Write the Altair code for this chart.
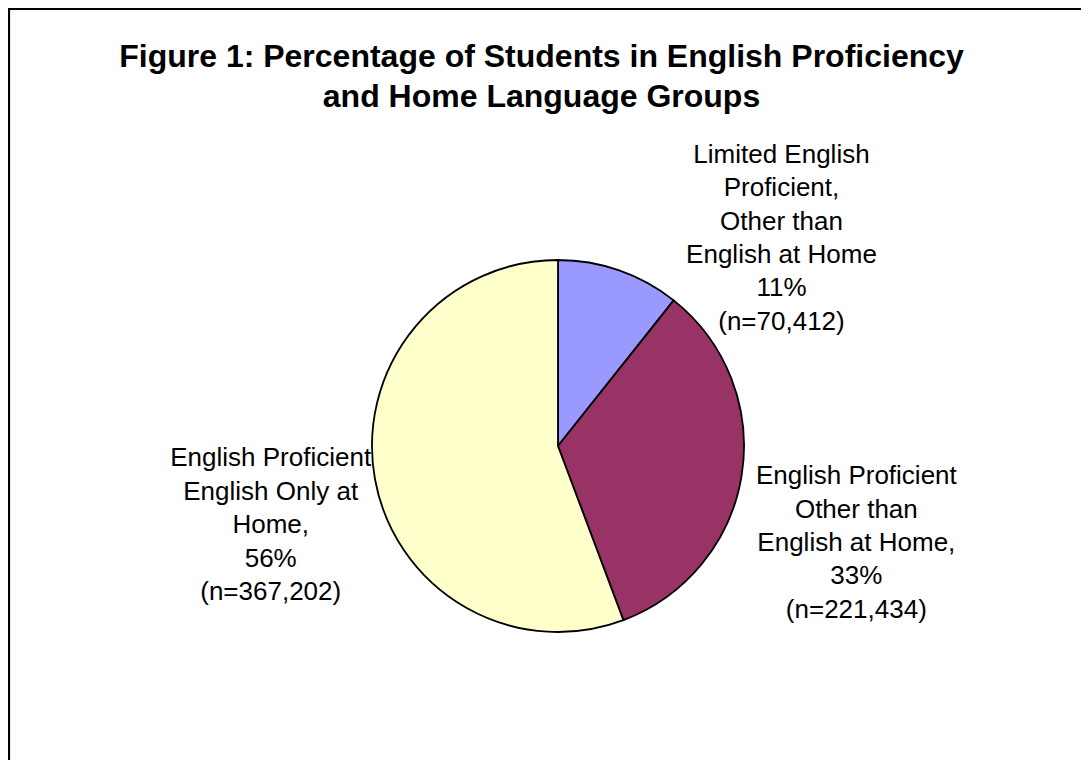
import altair as alt
import pandas as pd

# ---- data ----
categories = [
    "Limited English Proficient, Other than English at Home",
    "English Proficient Other than English at Home",
    "English Proficient English Only at Home",
]
counts = [70412, 221434, 367202]
percents = ["11%", "33%", "56%"]
label_lines = [
    ["Limited English", "Proficient,", "Other than", "English at Home", "11%", "(n=70,412)"],
    ["English Proficient", "Other than", "English at Home,", "33%", "(n=221,434)"],
    ["English Proficient", "English Only at", "Home,", "56%", "(n=367,202)"],
]
colors = ["#9999FF", "#993366", "#FFFFCC"]
title_lines = [
    "Figure 1: Percentage of Students in English Proficiency",
    "and Home Language Groups",
]

df = pd.DataFrame({
    "idx": list(range(len(categories))),
    "cat": categories,
    "count": counts,
    "label": ["\n".join(l) for l in label_lines],
})

W, H = 1073, 752
CX, CY = 550, 438
FONT = "Liberation Sans"
LH = 33.4

base = alt.Chart(df)

pie = base.mark_arc(radius=186, stroke="black", strokeWidth=1.8).encode(
    theta=alt.Theta("count:Q", stack=True),
    color=alt.Color("cat:N", scale=alt.Scale(domain=categories, range=colors), legend=None),
    order=alt.Order("idx:Q"),
    x=alt.value(CX),
    y=alt.value(CY),
)

label_layout = [
    dict(radius=220, dx=151, dy=0),
    dict(radius=302, dx=0, dy=50),
    dict(radius=292, dx=0, dy=27),
]

texts = []
for k, lay in enumerate(label_layout):
    n_lines = len(label_lines[k])
    t = base.transform_calculate(
        lbl=f"datum.idx == {k} ? datum.label : ''"
    ).mark_text(
        radius=lay["radius"], dx=lay["dx"], dy=lay["dy"] - (n_lines - 1) * LH / 2,
        font=FONT, fontSize=26, color="black",
        align="center", baseline="middle", lineBreak="\n", lineHeight=LH,
    ).encode(
        theta=alt.Theta("count:Q", stack=True),
        detail="cat:N",
        order=alt.Order("idx:Q"),
        text="lbl:N",
        x=alt.value(CX),
        y=alt.value(CY),
    )
    texts.append(t)

frame_data = alt.Data(values=[{"a": 1}])
top_rule = alt.Chart(frame_data).mark_rule(color="black", strokeWidth=2.2).encode(
    x=alt.value(0), x2=alt.value(W), y=alt.value(1)
)
left_rule = alt.Chart(frame_data).mark_rule(color="black", strokeWidth=2.2).encode(
    x=alt.value(1), y=alt.value(0), y2=alt.value(H)
)

chart = alt.layer(top_rule, left_rule, pie, *texts).properties(
    width=W,
    height=H,
    autosize=alt.AutoSizeParams(type="none"),
    padding=0,
    background="white",
    title=alt.Title(
        text=title_lines,
        font=FONT,
        fontSize=32,
        fontWeight="bold",
        color="black",
        anchor="middle",
        frame="group",
        dx=-3,
        offset=-107,
        lineHeight=40,
    ),
).configure_view(stroke="transparent", strokeOpacity=0, strokeWidth=0)

chart.save("out.html", embed_options={"renderer": "svg", "actions": False})
